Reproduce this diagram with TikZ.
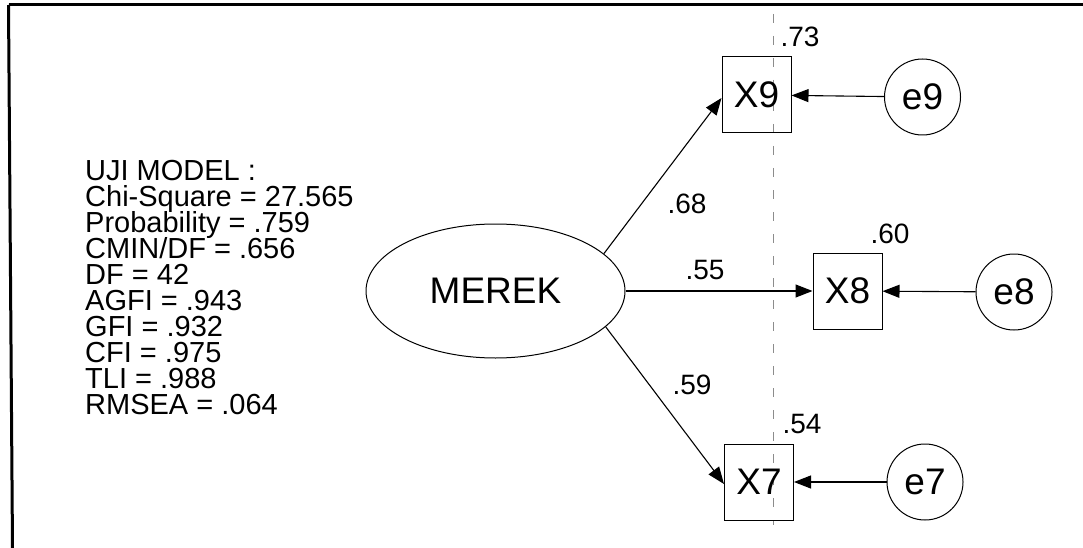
\documentclass[tikz,border=0pt]{standalone}
\usepackage{fontspec}
\setmainfont{Liberation Sans}
\usetikzlibrary{arrows.meta,shapes.geometric}
\begin{document}
\begin{tikzpicture}[x=1pt,y=-1pt,
  obs/.style={draw,line width=1pt,minimum width=69pt,minimum height=76pt,inner sep=0pt,font=\fontsize{37}{37}\selectfont},
  err/.style={draw,circle,line width=1pt,minimum size=76pt,inner sep=0pt,font=\fontsize{37}{37}\selectfont},
  lat/.style={draw,ellipse,line width=1pt,minimum width=259pt,minimum height=134pt,inner sep=0pt,font=\fontsize{37}{37}\selectfont},
  val/.style={inner sep=0pt,font=\fontsize{28}{28}\selectfont},
  fitline/.style={anchor=base west,inner sep=0pt,text height=20pt,text depth=5pt,font=\fontsize{29}{26}\selectfont},
  path/.style={line width=1.1pt,-{Triangle[length=17pt,width=13pt]}},
  frame/.style={line width=3pt},
  guide/.style={black!45,line width=0.8pt,dash pattern=on 9pt off 13pt}]
\useasboundingbox (0,0) rectangle (1083,548);
% frame
\draw[frame] (8.5,5) -- (1083,5);
\draw[frame] (8.5,5) -- (12.5,548);
% guide line
\draw[guide] (773,14) -- (773,525);
% nodes
\node[lat] (merek) at (495.5,291) {MEREK};
\node[obs] (x9) at (756.5,95) {X9};
\node[obs] (x8) at (847.5,291) {X8};
\node[obs] (x7) at (759,482) {X7};
\node[err] (e9) at (922.5,97) {e9};
\node[err] (e8) at (1014,292) {e8};
\node[err] (e7) at (925,482) {e7};
% paths
\draw[path] (merek.19) -- ([yshift=-3pt]x9.west);
\draw[path] (merek.east) -- (x8.west);
\draw[path] (merek.-18) -- ([yshift=-2pt]x7.west);
\draw[path] (e9) -- (x9);
\draw[path] (e8) -- (x8);
\draw[path] (e7) -- (x7);
% values
\node[val] (l68) at (687,204) {.68};
\node[val] (l55) at (705,270) {.55};
\node[val] (l59) at (692,385) {.59};
\node[val] (l73) at (800,37) {.73};
\node[val] (l60) at (890,234) {.60};
\node[val] (l54) at (802,424) {.54};
% fit block
\node[fitline] (f1) at (85,180) {UJI MODEL :};
\node[fitline] (f2) at (85,206) {Chi-Square = 27.565};
\node[fitline] (f3) at (85,232) {Probability = .759};
\node[fitline] (f4) at (85,258) {CMIN/DF = .656};
\node[fitline] (f5) at (85,284) {DF = 42};
\node[fitline] (f6) at (85,310) {AGFI = .943};
\node[fitline] (f7) at (85,336) {GFI = .932};
\node[fitline] (f8) at (85,362) {CFI = .975};
\node[fitline] (f9) at (85,388) {TLI = .988};
\node[fitline] (f10) at (85,414) {RMSEA = .064};
\end{tikzpicture}
\end{document}
